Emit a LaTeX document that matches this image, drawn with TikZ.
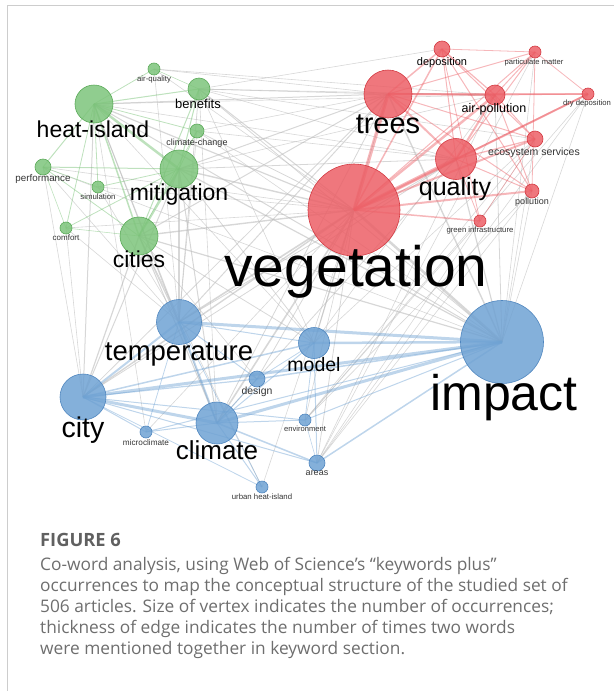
\documentclass[tikz,border=0pt]{standalone}
\usepackage{fontspec}
\setsansfont{Liberation Sans}
\newfontfamily\capfont{Open Sans}
\usetikzlibrary{backgrounds}
\definecolor{grnfill}{HTML}{7DC47B}
\definecolor{grnline}{HTML}{5BAA59}
\definecolor{redfill}{HTML}{EC5F66}
\definecolor{redline}{HTML}{D33A42}
\definecolor{blufill}{HTML}{6FA2D3}
\definecolor{bluline}{HTML}{4F86BF}
\definecolor{edgegray}{HTML}{BDBDBD}
\definecolor{framegray}{HTML}{CDCDCD}
\definecolor{captext}{HTML}{6E6E6E}
\definecolor{capdark}{HTML}{606060}

\begin{document}
\begin{tikzpicture}[x=1pt, y=-1pt,
  vtx/.style={circle, draw, inner sep=0pt, line width=0.6pt, fill opacity=0.85, minimum size=#1},
  gvtx/.style={vtx=#1, draw=grnline, fill=grnfill},
  rvtx/.style={vtx=#1, draw=redline, fill=redfill},
  bvtx/.style={vtx=#1, draw=bluline, fill=blufill},
  lab/.style={anchor=base, inner sep=0pt, font=\sffamily\fontsize{#1}{#1}\selectfont},
  slab/.style={lab=#1, text=black!80},
  grayedge/.style={edgegray, draw opacity=0.6},
  grnedge/.style={grnfill, draw opacity=0.5},
  rededge/.style={redfill, draw opacity=0.45},
  bluedge/.style={blufill, draw opacity=0.45},
  capline/.style={anchor=base west, inner sep=0pt, text=captext, font=\capfont\fontsize{17.3}{17.3}\selectfont},
]
\useasboundingbox (0,0) rectangle (614,691);
\draw[framegray, line width=1.5pt] (7.5,691) -- (7.5,5.5) -- (614,5.5);

\node[gvtx=12pt] (airq) at (154,69) {};
\node[gvtx=22pt] (ben) at (199,89) {};
\node[gvtx=38pt] (heat) at (94,104) {};
\node[gvtx=14pt] (cc) at (197,131) {};
\node[gvtx=16pt] (perf) at (43,167) {};
\node[gvtx=38pt] (mit) at (179,169) {};
\node[gvtx=12pt] (sim) at (98,187) {};
\node[gvtx=12pt] (comf) at (66,228) {};
\node[gvtx=38pt] (cities) at (139,236) {};

\node[rvtx=16pt] (dep) at (442,49) {};
\node[rvtx=12pt] (pm) at (535,52) {};
\node[rvtx=48pt] (trees) at (388,94) {};
\node[rvtx=20pt] (airp) at (495,95) {};
\node[rvtx=12pt] (dryd) at (588,94) {};
\node[rvtx=16pt] (eco) at (535,139) {};
\node[rvtx=41pt] (qual) at (456,159) {};
\node[rvtx=14pt] (poll) at (532,191) {};
\node[rvtx=12pt] (ginf) at (480,221) {};
\node[rvtx=92pt] (veg) at (354,210) {};

\node[bvtx=45pt] (temp) at (179,322) {};
\node[bvtx=46pt] (city) at (83,397) {};
\node[bvtx=16pt] (design) at (257,379) {};
\node[bvtx=42pt] (clim) at (217,423) {};
\node[bvtx=12pt] (micro) at (146,432) {};
\node[bvtx=12pt] (uhi) at (262,487) {};
\node[bvtx=31pt] (model) at (314,343) {};
\node[bvtx=12pt] (env) at (305,420) {};
\node[bvtx=16pt] (areas) at (317,463) {};
\node[bvtx=83pt] (imp) at (502,342) {};

\begin{pgfonlayer}{background}
\foreach \a/\b/\w in {veg/heat/1.2, veg/mit/1.4, veg/cities/1.4, veg/ben/1, veg/perf/0.6, veg/comf/0.6,
    veg/sim/0.6, veg/cc/0.8, veg/airq/0.6, veg/temp/1.6, veg/city/1.4, veg/clim/1.6, veg/model/1.2,
    veg/design/0.8, veg/imp/2.5, veg/areas/0.8, veg/env/0.6, veg/uhi/0.6, veg/micro/0.6,
    imp/heat/1, imp/mit/1.2, imp/cities/1.2, imp/ben/0.8, imp/trees/1.4, imp/qual/1.2, imp/eco/0.6,
    imp/perf/0.6, imp/cc/0.6, imp/airp/0.8, imp/pm/0.6, imp/dryd/0.6, imp/poll/0.6,
    trees/heat/1, trees/mit/1, trees/ben/0.8, trees/airq/0.6, trees/cc/0.6,
    trees/cities/1, trees/temp/1, trees/city/0.8, trees/clim/0.8, trees/model/0.6, qual/temp/0.8,
    qual/city/0.8, qual/clim/0.8, qual/mit/0.8, qual/ben/0.6, qual/heat/0.6, qual/cc/0.6,
    airp/ben/0.6, airp/airq/0.6, airp/heat/0.6, airp/mit/0.6, eco/ben/0.6, dep/ben/0.6,
    airp/model/0.6, airp/areas/0.6, dryd/areas/0.6, dryd/env/0.6, eco/env/0.6, eco/areas/0.6,
    eco/model/0.6, poll/areas/0.6, poll/env/0.6, pm/areas/0.6, ginf/env/0.6,
    heat/temp/1, heat/city/1, heat/clim/0.8, heat/model/0.6, mit/temp/1.2, mit/clim/1, mit/city/1,
    mit/model/0.8, cities/temp/1.2, cities/city/1.2, cities/clim/1, cities/model/0.8, cities/design/0.6,
    ben/temp/0.8, ben/model/0.6, ben/clim/0.6, perf/city/0.6, perf/temp/0.6, comf/city/0.6,
    comf/temp/0.6, sim/temp/0.6, cc/temp/0.6, airq/temp/0.6, cities/uhi/0.6, heat/micro/0.6}
  \draw[grayedge, line width=\w pt] (\a.center) -- (\b.center);
\foreach \a/\b/\w in {heat/mit/2.5, heat/cities/1.5, heat/ben/1, heat/airq/0.8, heat/perf/1, heat/sim/0.8,
    heat/comf/0.8, heat/cc/0.8, mit/ben/1, mit/cities/2, mit/perf/1, mit/sim/0.8, mit/cc/0.8,
    mit/comf/0.8, cities/ben/1, cities/perf/0.8, cities/comf/0.6, cities/cc/0.6, perf/sim/0.6,
    perf/comf/0.6, ben/airq/0.6}
  \draw[grnedge, line width=\w pt] (\a.center) -- (\b.center);
\foreach \a/\b/\w in {veg/trees/3.5, veg/qual/4, veg/airp/2.5, veg/eco/2, veg/poll/2, veg/ginf/1.5,
    veg/dep/1.5, veg/dryd/2, veg/pm/1, trees/qual/2, trees/airp/2, trees/dryd/1.5, trees/dep/1.5,
    trees/eco/1, trees/poll/1, trees/pm/1, qual/dep/1, qual/airp/2, qual/dryd/1.5, qual/eco/1.2,
    qual/poll/1, qual/pm/1, qual/ginf/0.8, dep/airp/1.2, dep/eco/1, dep/poll/1, dep/ginf/0.8,
    airp/pm/1, airp/dryd/1, airp/eco/1, airp/poll/1, pm/dryd/0.8, pm/poll/0.8, eco/ginf/0.6, dep/pm/0.8}
  \draw[rededge, line width=\w pt] (\a.center) -- (\b.center);
\foreach \a/\b/\w in {imp/temp/3, imp/model/2.5, imp/city/3, imp/clim/3, imp/design/1.5, imp/env/1,
    imp/areas/1.5, imp/micro/1, city/temp/2, city/clim/3, city/model/1.5, city/design/1.2, city/env/1,
    city/areas/1, city/micro/1, city/uhi/0.8, temp/clim/2, temp/model/1, temp/design/1, temp/uhi/0.8,
    temp/micro/0.8, clim/model/1, clim/design/1, clim/areas/1.5, clim/uhi/1, clim/env/1, clim/micro/1,
    model/areas/1, model/env/0.8, model/design/0.8, areas/env/0.6}
  \draw[bluedge, line width=\w pt] (\a.center) -- (\b.center);
\end{pgfonlayer}

\node[lab=23] (heat-l) at (93,137) {heat-island};
\node[lab=23] (mit-l) at (179,200) {mitigation};
\node[lab=23] (cities-l) at (139,267) {cities};
\node[lab=13] (ben-l) at (198,108) {benefits};
\node[slab=7.8] (airq-l) at (154,81) {air-quality};
\node[slab=9] (cc-l) at (197,145) {climate-change};
\node[slab=9.8] (perf-l) at (43,181) {performance};
\node[slab=7.8] (sim-l) at (98,199) {simulation};
\node[slab=8] (comf-l) at (66,240) {comfort};

\node[lab=57] (veg-l) at (356,286) {vegetation};
\node[lab=29] (trees-l) at (388,133) {trees};
\node[lab=25] (qual-l) at (455,195) {quality};
\node[lab=12.5] (airp-l) at (494,112) {air-pollution};
\node[lab=11] (dep-l) at (442,65) {deposition};
\node[slab=10.5] (eco-l) at (534,155) {ecosystem services};
\node[slab=9] (poll-l) at (532,204) {pollution};
\node[slab=7.7] (ginf-l) at (480,232) {green infrastructure};
\node[slab=7.6] (pm-l) at (534,64) {particulate matter};
\node[slab=7.7] (dryd-l) at (587,105) {dry deposition};

\node[lab=50] (imp-l) at (504,410) {impact};
\node[lab=27.5] (temp-l) at (179,360) {temperature};
\node[lab=28.5] (city-l) at (83,437) {city};
\node[lab=26] (clim-l) at (217,459) {climate};
\node[lab=19.5] (model-l) at (314,371) {model};
\node[slab=10.4] (design-l) at (257,394) {design};
\node[slab=8.2] (micro-l) at (146,445) {microclimate};
\node[slab=7.8] (uhi-l) at (262,499) {urban heat-island};
\node[slab=7.6] (env-l) at (305,431) {environment};
\node[slab=9] (areas-l) at (317,475) {areas};

\node[capline, text=capdark, font=\capfont\bfseries\fontsize{18.3}{18.3}\selectfont] (fig) at (40,546) {FIGURE 6};
\node[capline] (cap1) at (40,570) {Co-word analysis, using Web of Science’s “keywords plus”};
\node[capline] (cap2) at (40,591) {occurrences to map the conceptual structure of the studied set of};
\node[capline] (cap3) at (40,612) {506 articles. Size of vertex indicates the number of occurrences;};
\node[capline] (cap4) at (40,633) {thickness of edge indicates the number of times two words};
\node[capline] (cap5) at (40,654) {were mentioned together in keyword section.};
\end{tikzpicture}
\end{document}
